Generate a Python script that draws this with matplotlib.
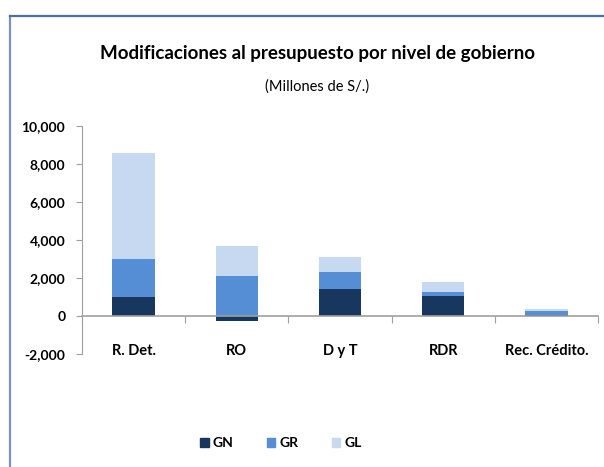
import numpy as np
import matplotlib.pyplot as plt
from matplotlib.patches import Patch
from matplotlib.lines import Line2D

plt.rcParams['font.family'] = ['Lato', 'DejaVu Sans']

# datos (millones de S/.)
categorias = ['R. Det.', 'RO', 'D y T', 'RDR', 'Rec. Crédito.']
gn = [1000, -250, 1430, 1060, 70]
gr = [2000, 2080, 890, 210, 190]
gl = [5560, 1620, 800, 530, 110]

col_gn = '#17375E'
col_gr = '#558ED5'
col_gl = '#C6D9F1'

fig = plt.figure(figsize=(6.04, 4.67), dpi=100)

# marco del grafico (solo borde superior e izquierdo visibles)
fig.add_artist(Line2D([9.5 / 604, 9.5 / 604], [0, 1 - 15.5 / 467],
                      color='#7A94BC', linewidth=1.6))
fig.add_artist(Line2D([9.5 / 604, 1], [1 - 15.5 / 467, 1 - 15.5 / 467],
                      color='#4F6EA0', linewidth=1.6))

ax = fig.add_axes([82 / 604, 113 / 467, 516 / 604, 228 / 467])
x = np.arange(len(categorias))
ancho = 0.41

gn_pos = np.clip(gn, 0, None)
ax.bar(x, gn, ancho, color=col_gn, label='GN')
ax.bar(x, gr, ancho, bottom=gn_pos, color=col_gr, label='GR')
ax.bar(x, gl, ancho, bottom=gn_pos + np.array(gr), color=col_gl, label='GL')

ax.set_xlim(-0.5, len(categorias) - 0.5)
ax.set_ylim(-2000, 10000)
ax.set_yticks(np.arange(-2000, 10001, 2000))
ax.set_yticklabels([f'{v:,}' for v in range(-2000, 10001, 2000)],
                   fontsize=10, fontweight='bold')
ax.tick_params(axis='y', direction='out', length=4, color='#A0A0A0', pad=8)

for s in ['top', 'right']:
    ax.spines[s].set_visible(False)
ax.spines['left'].set_color('#A0A0A0')
ax.spines['bottom'].set_color('#A0A0A0')
ax.spines['bottom'].set_linewidth(1.2)
ax.spines['bottom'].set_position(('data', 0))

ax.set_xticks(np.arange(-0.5, len(categorias), 1))
ax.set_xticklabels([])
ax.tick_params(axis='x', direction='out', length=5, color='#A0A0A0')
for xi, c in zip(x, categorias):
    ax.text(xi, -1820, c, ha='center', va='center', fontsize=10.5,
            fontweight='bold')

fig.text(317 / 604, 1 - 53 / 467, 'Modificaciones al presupuesto por nivel de gobierno',
         ha='center', va='center', fontsize=13.5, fontweight='bold')
fig.text(317 / 604, 1 - 87 / 467, '(Millones de S/.)',
         ha='center', va='center', fontsize=10.5)

handles = [Patch(color=col_gn), Patch(color=col_gr), Patch(color=col_gl)]
fig.legend(handles, ['GN', 'GR', 'GL'], loc='center', ncol=3,
           bbox_to_anchor=(281 / 604, 1 - 443 / 467), frameon=False,
           prop={'weight': 'bold', 'size': 10},
           handlelength=0.6, handleheight=0.6, handletextpad=0.3,
           columnspacing=2.4)

plt.savefig('out.png', dpi=100, facecolor='white')
